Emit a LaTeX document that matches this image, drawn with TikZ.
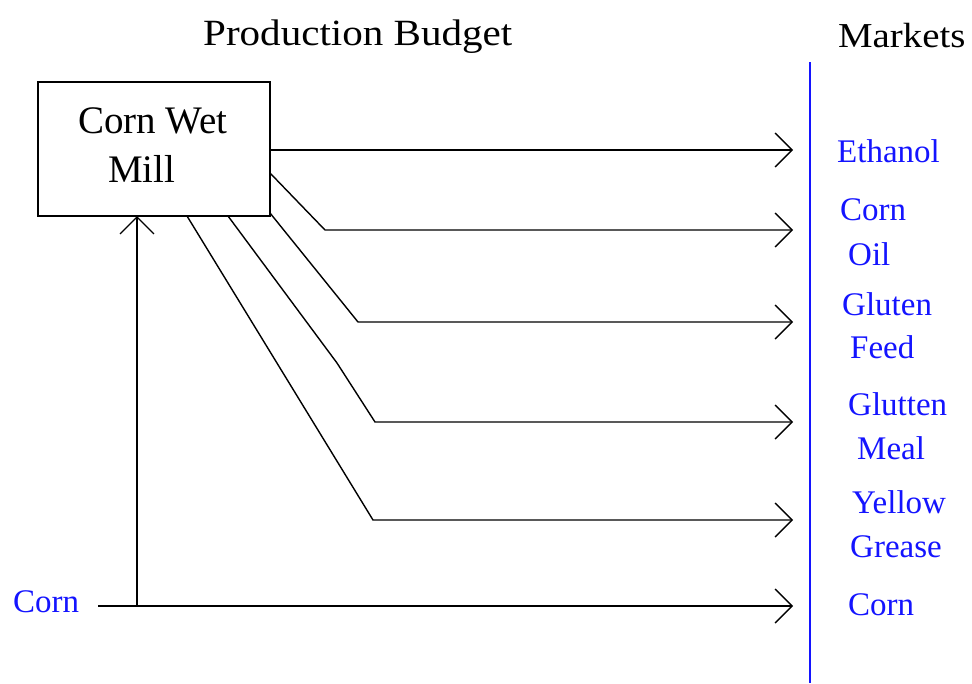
\documentclass[tikz,border=0pt]{standalone}
\usepackage{fontspec}
\newfontfamily\lblfont{Liberation Serif}
\newfontfamily\ttlfont[FakeStretch=1.11]{Liberation Serif}
\usetikzlibrary{arrows.meta}
\begin{document}
\begin{tikzpicture}[x=1pt,y=-1pt,
  lbl/.style={font=\lblfont\fontsize{33}{33}\selectfont, text={rgb,255:red,20;green,20;blue,255}, anchor=base west, inner sep=0pt},
  ttl/.style={font=\ttlfont\fontsize{37}{37}\selectfont, anchor=base west, inner sep=0pt},
  boxtxt/.style={font=\lblfont\fontsize{39}{39}\selectfont, anchor=base west, inner sep=0pt},
  flow/.style={line width=1.4pt, -{Straight Barb[length=17pt,width=34pt,line width=1.4pt]}},
  millbox/.style={draw, line width=1.8pt, minimum width=232pt, minimum height=134pt, inner sep=0pt}
]
\useasboundingbox (0,0) rectangle (972,683);
% titles
\node[ttl] (title) at (203,45) {Production Budget};
\node[ttl, font=\ttlfont\fontsize{35}{35}\selectfont] (markets) at (838,47) {Markets};
% market line
\draw[line width=2pt, color={rgb,255:red,20;green,20;blue,255}] (810,62) -- (810,683);
% box
\node[millbox] (mill) at (154,149) {};
\node[boxtxt] (mt1) at (78,133) {Corn Wet};
\node[boxtxt] (mt2) at (108,182) {Mill};
% labels
\node[lbl] (eth) at (837,162) {Ethanol};
\node[lbl] (co1) at (840,220) {Corn};
\node[lbl] (co2) at (848,265) {Oil};
\node[lbl] (gf1) at (842,315) {Gluten};
\node[lbl] (gf2) at (850,358) {Feed};
\node[lbl] (gm1) at (848,415) {Glutten};
\node[lbl] (gm2) at (857,459) {Meal};
\node[lbl] (yg1) at (852,513) {Yellow};
\node[lbl] (yg2) at (850,557) {Grease};
\node[lbl] (cm) at (848,615) {Corn};
\node[lbl] (cin) at (13,612) {Corn};
% coordinates
\coordinate (s1) at (270,150); \coordinate (t1) at (793,150);
\coordinate (s2) at (270,173); \coordinate (b2) at (325,230); \coordinate (t2) at (793,230);
\coordinate (s3) at (270,213); \coordinate (b3) at (358,322); \coordinate (t3) at (793,322);
\coordinate (s4) at (228,216); \coordinate (k4) at (337,363); \coordinate (b4) at (375,422); \coordinate (t4) at (793,422);
\coordinate (s5) at (187,216); \coordinate (b5) at (373,520); \coordinate (t5) at (793,520);
\coordinate (c0) at (98,606); \coordinate (t6) at (793,606);
\coordinate (j) at (137,606); \coordinate (ju) at (137,216);
% flows
\draw[flow] (s1) -- (t1);
\draw[flow] (s2) -- (b2) -- (t2);
\draw[flow] (s3) -- (b3) -- (t3);
\draw[flow] (s4) -- (k4) -- (b4) -- (t4);
\draw[flow] (s5) -- (b5) -- (t5);
\draw[flow] (c0) -- (t6);
\draw[flow] (j) -- (ju);
\end{tikzpicture}
\end{document}
